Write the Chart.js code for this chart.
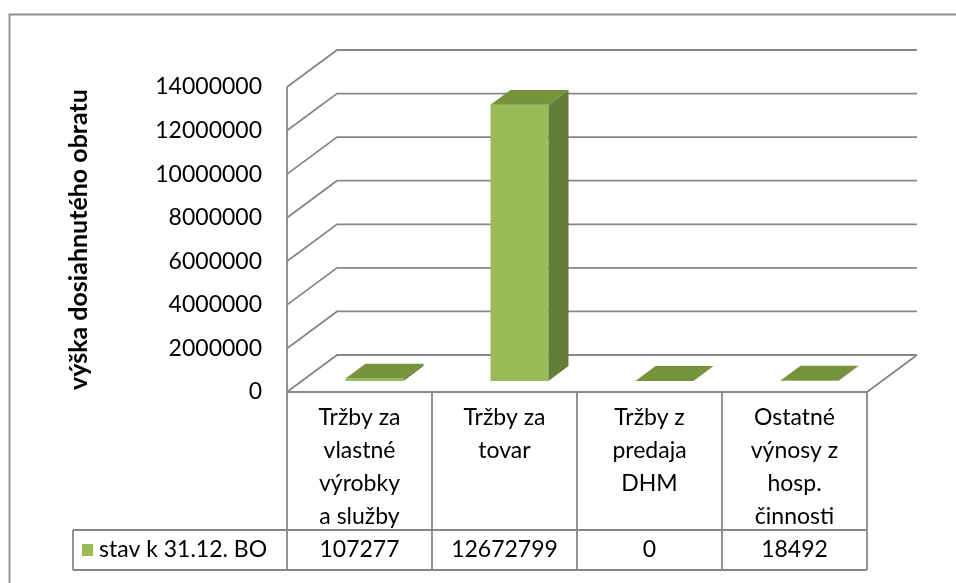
<!DOCTYPE html>
<html>
<head>
<meta charset="utf-8">
<script src="https://cdn.jsdelivr.net/npm/chart.js@4.4.0/dist/chart.umd.min.js"></script>
<style>
  html, body { margin: 0; padding: 0; background: #fff; }
  #wrap { width: 956px; height: 583px; position: relative; }
</style>
</head>
<body>
<div id="wrap"><canvas id="chart"></canvas></div>
<script>
// Category labels, split into lines the way the data table shows them
const categories = [
    ['Tržby za', 'vlastné', 'výrobky', 'a služby'],
    ['Tržby za', 'tovar'],
    ['Tržby z', 'predaja', 'DHM'],
    ['Ostatné', 'výnosy z', 'hosp.', 'činnosti']
];
const seriesName = 'stav k 31.12. BO';
const seriesValues = [107277, 12672799, 0, 18492];
const yTicks = [0, 2000000, 4000000, 6000000, 8000000, 10000000, 12000000, 14000000];
const yTitle = 'výška dosiahnutého obratu';

// colours of the 3D column faces and the wall lines
const FRONT = '#9BBB59';
const TOP = '#77933C';
const SIDE = '#657E37';
const LINE = '#878787';
const FONT = 'Lato';

// depth of the floor, and where the columns sit inside it (0 = front, 1 = back)
const DEPTH = { x: 50, y: -37 };
const BAR_FROM = 0.3;
const BAR_TO = 0.7;

function line(ctx, pts) {
    ctx.beginPath();
    ctx.moveTo(pts[0][0], pts[0][1]);
    for (let i = 1; i < pts.length; i++) ctx.lineTo(pts[i][0], pts[i][1]);
    ctx.stroke();
}

function poly(ctx, pts, color) {
    ctx.beginPath();
    ctx.moveTo(pts[0][0], pts[0][1]);
    for (let i = 1; i < pts.length; i++) ctx.lineTo(pts[i][0], pts[i][1]);
    ctx.closePath();
    ctx.fillStyle = color;
    ctx.fill();
}

const box3d = {
    id: 'box3d',
    beforeDatasetsDraw(chart) {
        const ctx = chart.ctx;
        const area = chart.chartArea;
        const ys = chart.scales.y;

        ctx.save();
        ctx.strokeStyle = LINE;
        ctx.lineWidth = 1.8;
        // left wall: front edge plus a diagonal per tick, back wall: gridlines
        line(ctx, [[area.left, ys.getPixelForValue(yTicks[yTicks.length - 1])], [area.left, area.bottom]]);
        yTicks.forEach(v => {
            const y = ys.getPixelForValue(v);
            line(ctx, [[area.left, y], [area.left + DEPTH.x, y + DEPTH.y], [area.right + DEPTH.x, y + DEPTH.y]]);
        });
        // floor
        line(ctx, [[area.left, area.bottom], [area.right, area.bottom], [area.right + DEPTH.x, area.bottom + DEPTH.y]]);
        ctx.restore();

        // front faces are drawn by chart.js, shifted into the floor depth
        ctx.save();
        ctx.translate(DEPTH.x * BAR_FROM, DEPTH.y * BAR_FROM);
    },
    afterDatasetsDraw(chart) {
        const ctx = chart.ctx;
        ctx.restore();

        const fx = DEPTH.x * BAR_FROM, fy = DEPTH.y * BAR_FROM;
        const bx = DEPTH.x * BAR_TO, by = DEPTH.y * BAR_TO;
        chart.getDatasetMeta(0).data.forEach(bar => {
            const p = bar.getProps(['x', 'y', 'base', 'width'], true);
            const l = p.x - p.width / 2, r = p.x + p.width / 2;
            poly(ctx, [[r + fx, p.y + fy], [r + bx, p.y + by], [r + bx, p.base + by], [r + fx, p.base + fy]], SIDE);
            poly(ctx, [[l + fx, p.y + fy], [r + fx, p.y + fy], [r + bx, p.y + by], [l + bx, p.y + by]], TOP);
        });
    },
    afterDraw(chart) {
        const ctx = chart.ctx;
        const area = chart.chartArea;
        const xs = chart.scales.x;
        const half = (area.right - area.left) / categories.length / 2;
        const rowLine = 530, tableBottom = 570, tableLeft = 73;

        ctx.save();
        ctx.strokeStyle = LINE;
        ctx.lineWidth = 1.8;
        // column borders of the data table
        for (let i = 0; i <= categories.length; i++) {
            const x = i < categories.length ? xs.getPixelForValue(i) - half : xs.getPixelForValue(i - 1) + half;
            line(ctx, [[x, area.bottom], [x, tableBottom]]);
        }
        line(ctx, [[tableLeft, rowLine], [area.right, rowLine]]);
        line(ctx, [[tableLeft, tableBottom], [area.right, tableBottom]]);
        line(ctx, [[tableLeft, rowLine], [tableLeft, tableBottom]]);

        // outer chart border
        ctx.strokeStyle = '#8C8C8C';
        line(ctx, [[9.5, 583], [9.5, 14.5], [956, 14.5]]);

        ctx.fillStyle = '#000';
        ctx.font = '23px ' + FONT;
        ctx.textAlign = 'center';
        ctx.textBaseline = 'middle';
        categories.forEach((lines, i) => {
            const x = xs.getPixelForValue(i);
            lines.forEach((t, j) => ctx.fillText(t, x, area.bottom + 26 + j * 33));
            ctx.fillText(String(seriesValues[i]), x, 550);
        });

        // legend key in the table
        ctx.fillStyle = FRONT;
        ctx.fillRect(82, 544, 11, 12);
        ctx.fillStyle = '#000';
        ctx.textAlign = 'left';
        ctx.fillText(seriesName, 99, 550);
        ctx.restore();
    }
};

Chart.defaults.color = '#000';

new Chart(document.getElementById('chart'), {
    type: 'bar',
    data: {
        labels: categories,
        datasets: [{
            label: seriesName,
            data: seriesValues,
            backgroundColor: FRONT,
            borderWidth: 0,
            categoryPercentage: 0.5,
            barPercentage: 0.8
        }]
    },
    options: {
        responsive: true,
        maintainAspectRatio: false,
        animation: false,
        layout: { padding: { left: 0, top: 87, right: 89, bottom: 191 } },
        plugins: {
            legend: { display: false },
            tooltip: { enabled: false }
        },
        scales: {
            x: { display: false },
            y: {
                min: 0,
                max: 14000000,
                afterBuildTicks: s => { s.ticks = yTicks.map(v => ({ value: v })); },
                afterFit: s => { s.width = 287; },
                ticks: {
                    padding: 25,
                    font: { family: FONT, size: 23 },
                    callback: v => String(v)
                },
                grid: { display: false, drawTicks: false },
                border: { display: false },
                title: {
                    display: true,
                    text: yTitle,
                    font: { family: FONT, size: 25, weight: 'bold' },
                    padding: { top: 64, bottom: 0 }
                }
            }
        }
    },
    plugins: [box3d]
});
</script>
</body>
</html>
